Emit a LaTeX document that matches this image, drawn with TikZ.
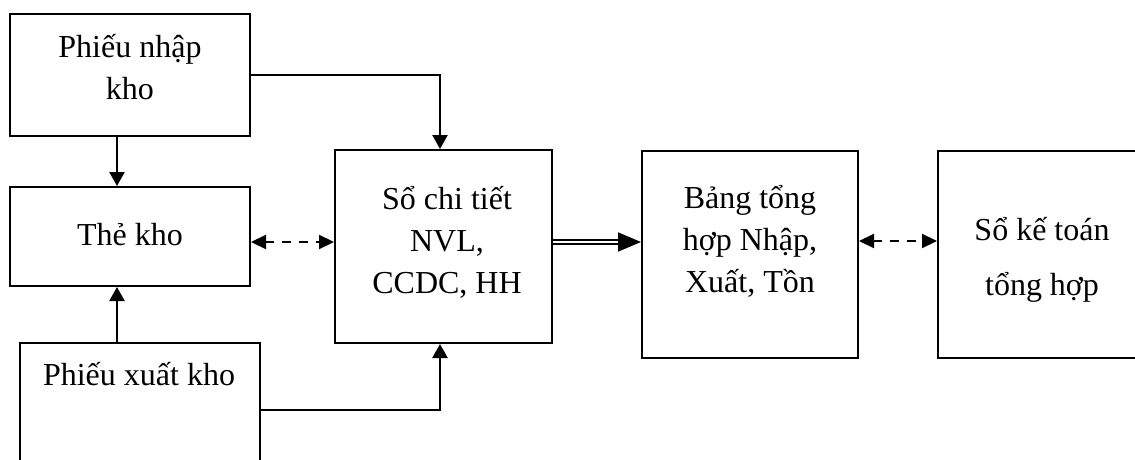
\documentclass[tikz,border=0pt]{standalone}
\usepackage{fontspec}
\setmainfont{Liberation Serif}
\usetikzlibrary{arrows.meta}
\begin{document}
\begin{tikzpicture}[x=1pt,y=-1pt,
  box/.style={draw, line width=2pt, rectangle, inner sep=0pt},
  txt/.style={align=center, inner sep=0pt, font=\fontsize{32}{42}\selectfont},
  arr/.style={line width=2.4pt, -{Triangle[length=14pt,width=15pt]}},
  dasharr/.style={line width=2.2pt, dash pattern=on 9pt off 8pt,
    {Triangle[length=15pt,width=14pt]}-{Triangle[length=15pt,width=14pt]}},
  dblarr/.style={double, double distance=2.2pt, line width=1.8pt,
    -{Triangle[length=23pt,width=19pt]}}]
\useasboundingbox (0,0) rectangle (1135,460);
\clip (0,0) rectangle (1135,460);

% boxes
\node[box, minimum width=240pt, minimum height=122pt] (a) at (130,75) {};
\node[box, minimum width=240pt, minimum height=99pt]  (b) at (130,236.5) {};
\node[box, minimum width=217pt, minimum height=193pt] (c) at (443.5,246.5) {};
\node[box, minimum width=240pt, minimum height=134pt] (d) at (140,410) {};
\node[box, minimum width=216pt, minimum height=207pt] (e) at (750,254.5) {};
\node[box, minimum width=208pt, minimum height=207pt] (f) at (1042,254.5) {};

% labels
\node[txt] (ta) at (130,67) {Phiếu nhập\\kho};
\node[txt] (tb) at (130,235) {Thẻ kho};
\node[txt] (tc) at (447,242) {Sổ chi tiết\\NVL,\\CCDC, HH};
\node[txt] (td) at (139,374) {Phiếu xuất kho};
\node[txt] (te) at (750,241) {Bảng tổng\\hợp Nhập,\\Xuất, Tồn};
\node[txt, font=\fontsize{32}{55}\selectfont] (tf) at (1042,260) {Sổ kế toán\\tổng hợp};

% guide lines for the connectors
\coordinate (colL) at (117,0);
\coordinate (colM) at (440,0);
\coordinate (rowM) at (0,242);
\coordinate (rowR) at (0,241);

% connectors
\draw[arr] (a.south -| colL) -- (b.north -| colL);
\draw[arr] (d.north -| colL) -- (b.south -| colL);
\draw[arr] (a.east) -| (c.north -| colM);
\draw[arr] (d.east) -| (c.south -| colM);
\draw[dasharr] (b.east |- rowM) -- (c.west |- rowM);
\draw[dblarr] (c.east |- rowM) -- (e.west |- rowM);
\draw[dasharr] (e.east |- rowR) -- (f.west |- rowR);
\end{tikzpicture}
\end{document}
